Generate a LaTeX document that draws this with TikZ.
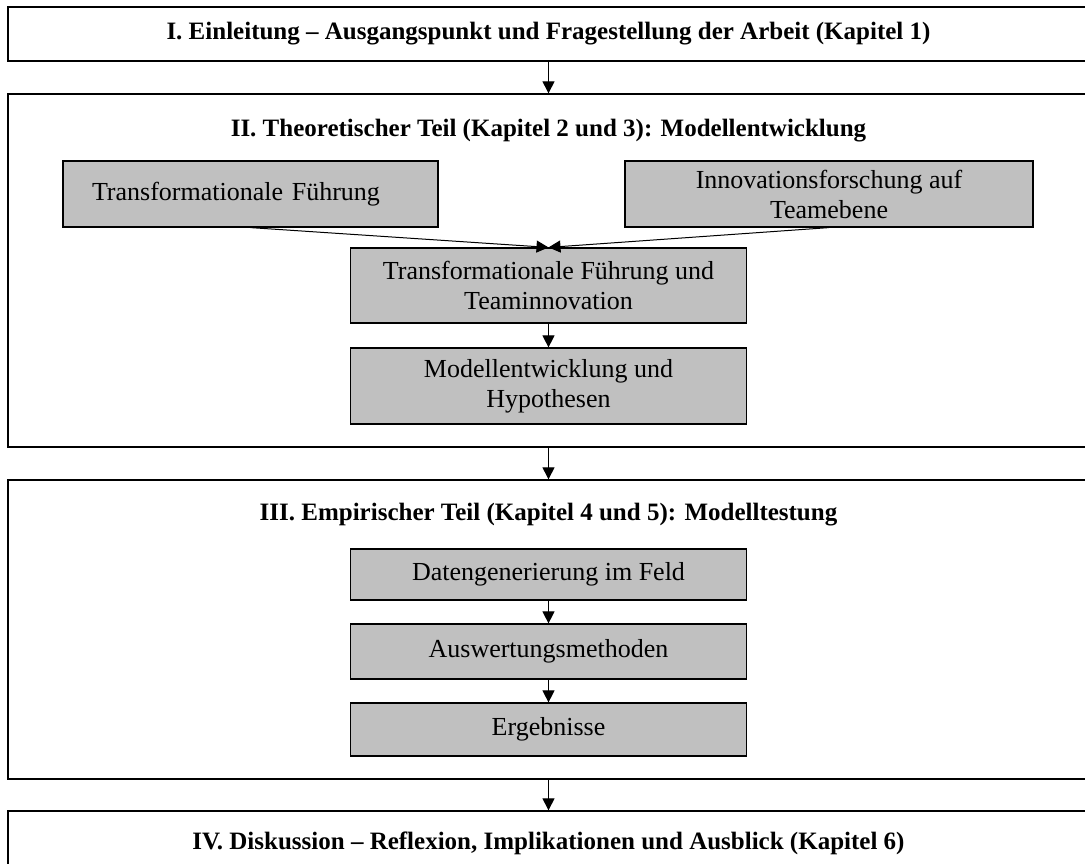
\documentclass[tikz,border=0pt]{standalone}
\usepackage{fontspec}
\setmainfont{Liberation Serif}
\usetikzlibrary{arrows.meta,positioning}
\definecolor{boxgray}{RGB}{192,192,192}

\begin{document}
\begin{tikzpicture}[x=1pt,y=-1pt,
part/.style={rectangle, draw, line width=1.3pt, minimum width=1081pt, inner sep=0pt},
title/.style={draw=none, fill=none, inner sep=0pt, font=\fontsize{25}{29}\selectfont\bfseries},
step box/.style={rectangle, draw, line width=1.2pt, fill=boxgray, inner sep=0pt, align=center,
  font=\fontsize{26}{30}\selectfont},
flow/.style={line width=1pt, -{Triangle[length=12pt,width=12pt]}},
info/.style={draw=none,fill=none,inner sep=0pt}]

%% local variables
\def \cx {548.5}

%% fix the page
\useasboundingbox (0,0) rectangle (1085,863);

%% outer parts
\node[part, minimum height=54pt] (P-1) at (\cx,34) {};
\node[part, minimum height=353pt] (P-2) at (\cx,270.5) {};
\node[part, minimum height=299pt] (P-3) at (\cx,629.5) {};
\node[part, minimum height=62pt] (P-4) at (\cx,842) {};

%% part titles
\node[title] (T-1) at (\cx,34) {I. Einleitung -- Ausgangspunkt und Fragestellung der Arbeit (Kapitel 1)};
\node[title] (T-2) at (\cx,131) {II. Theoretischer Teil (Kapitel 2 und 3): Modellentwicklung};
\node[title] (T-3) at (\cx,515) {III. Empirischer Teil (Kapitel 4 und 5): Modelltestung};
\node[title] (T-4) at (\cx,843) {IV. Diskussion -- Reflexion, Implikationen und Ausblick (Kapitel 6)};

%% theory part
\node[step box, minimum width=375pt, minimum height=66pt, text width=317pt, inner xsep=29pt, align=left]
  (tf) at (250.5,194) {Transformationale Führung};
\node[step box, minimum width=408pt, minimum height=66pt] (inno) at (829,194)
  {Innovationsforschung auf\\Teamebene};
\node[step box, minimum width=396pt, minimum height=75pt] (tft) at (\cx,285.5)
  {Transformationale Führung und\\Teaminnovation};
\node[step box, minimum width=396pt, minimum height=76pt] (mh) at (\cx,386)
  {Modellentwicklung und\\Hypothesen};

%% empirical part
\node[step box, minimum width=396pt, minimum height=51pt] (dg) at (\cx,574.5) {Datengenerierung im Feld};
\node[step box, minimum width=396pt, minimum height=55pt] (aw) at (\cx,651.5) {Auswertungsmethoden};
\node[step box, minimum width=396pt, minimum height=53pt] (eg) at (\cx,729.5) {Ergebnisse};

%% place all arrows
\draw[flow] (tf.south) -- (tft.north);
\draw[flow] (inno.south) -- (tft.north);
\foreach \a/\b in {P-1/P-2, tft/mh, P-2/P-3, dg/aw, aw/eg, P-3/P-4}
      \draw[flow] (\a) -- (\b);

\end{tikzpicture}
\end{document}
